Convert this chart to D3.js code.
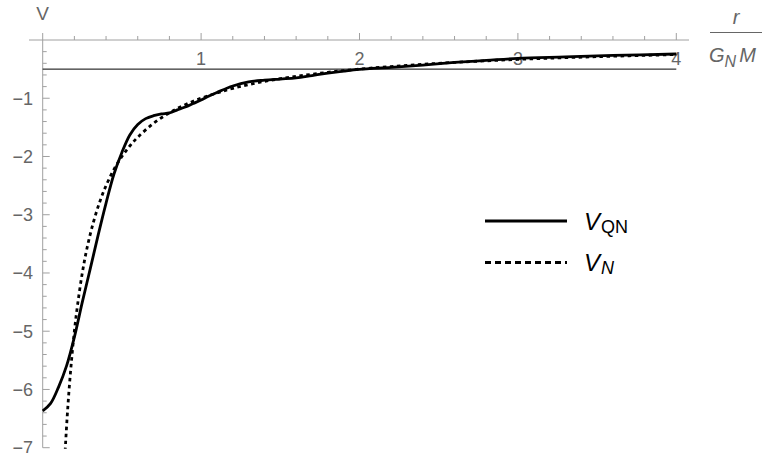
<!DOCTYPE html>
<html>
<head>
<meta charset="utf-8">
<title>V_QN vs V_N</title>
<style>
  body { margin: 0; background: #fff; }
  text { font-family: "Liberation Sans", Arial, sans-serif; }
</style>
</head>
<body>
<script src="https://d3js.org/d3.v7.min.js"></script>
<script>

// values
var qnR = [0, 0.05, 0.1, 0.15, 0.2, 0.25, 0.3, 0.35, 0.4, 0.45, 0.5, 0.55, 0.6, 0.65, 0.7, 0.75,
           0.8, 0.85, 0.9, 0.95, 1.0, 1.05, 1.1, 1.2, 1.3, 1.4, 1.5, 1.6, 1.7, 1.8, 1.9, 2.0,
           2.2, 2.4, 2.6, 2.8, 3.0, 3.3, 3.6, 4.0];
var qnV = [-6.37, -6.24, -5.96, -5.6, -5.1, -4.5, -3.93, -3.35, -2.8, -2.3, -1.93, -1.63, -1.45, -1.35, -1.3, -1.27,
           -1.25, -1.2, -1.15, -1.09, -1.03, -0.96, -0.9, -0.79, -0.72, -0.69, -0.67, -0.65, -0.61, -0.57, -0.535, -0.505,
           -0.47, -0.43, -0.385, -0.35, -0.315, -0.29, -0.265, -0.24];

var nR = [0.137, 0.145, 0.155, 0.165, 0.18, 0.2, 0.22, 0.25, 0.28, 0.32, 0.36, 0.4, 0.45, 0.5, 0.55, 0.6,
          0.7, 0.8, 0.9, 1.0, 1.1, 1.2, 1.4, 1.6, 1.8, 2.0, 2.3, 2.6, 3.0, 3.5, 4.0];
var nV = [-7.3, -6.9, -6.45, -6.06, -5.56, -5.0, -4.55, -4.0, -3.57, -3.13, -2.78, -2.5, -2.22, -2.0, -1.82, -1.67,
          -1.43, -1.25, -1.11, -1.0, -0.91, -0.83, -0.71, -0.625, -0.555, -0.5, -0.435, -0.385, -0.333, -0.286, -0.25];

var refLine = -0.5;
var xTicks = [1, 2, 3, 4];
var yTicks = [-1, -2, -3, -4, -5, -6, -7];

var svg = d3.select("body").append("svg")
    .attr("width", 764)
    .attr("height", 453);

var x = d3.scaleLinear().domain([0, 4]).range([42.7, 676.3]);
var y = d3.scaleLinear().domain([-7, 0]).range([447.7, 40]);

var axisColor = "#a0a0a0", labelColor = "#666";

svg.append("defs").append("clipPath").attr("id", "plot")
  .append("rect").attr("x", 42).attr("y", 0).attr("width", 700).attr("height", y(-7) + 1);

// axes
var g = svg.append("g");
g.append("line").attr("x1", 29).attr("x2", 689).attr("y1", y(0)).attr("y2", y(0))
  .attr("stroke", axisColor).attr("stroke-width", 1);
g.append("line").attr("x1", x(0)).attr("x2", x(0)).attr("y1", 33).attr("y2", y(-7))
  .attr("stroke", axisColor).attr("stroke-width", 1);

// x ticks, major and minor
d3.range(1, 21).forEach(function(i) {
  var v = i * 0.2, major = i % 5 === 0;
  g.append("line").attr("x1", x(v)).attr("x2", x(v))
    .attr("y1", y(0)).attr("y2", y(0) - (major ? 7 : 4))
    .attr("stroke", axisColor).attr("stroke-width", 1);
});
// y ticks
d3.range(1, 36).forEach(function(i) {
  var v = -i * 0.2, major = i % 5 === 0;
  g.append("line").attr("x1", x(0)).attr("x2", x(0) + (major ? 7 : 4))
    .attr("y1", y(v)).attr("y2", y(v))
    .attr("stroke", axisColor).attr("stroke-width", 1);
});

g.selectAll(".xl").data(xTicks).enter().append("text")
  .attr("x", function(d) { return x(d); })
  .attr("y", y(0) + 25)
  .attr("text-anchor", "middle")
  .attr("font-size", 18)
  .attr("fill", labelColor)
  .text(function(d) { return d; });

g.selectAll(".yl").data(yTicks).enter().append("text")
  .attr("x", 33)
  .attr("y", function(d) { return y(d) + 6.5; })
  .attr("text-anchor", "end")
  .attr("font-size", 18)
  .attr("fill", labelColor)
  .text(function(d) { return "\u2212" + Math.abs(d); });

// axis labels
g.append("text").attr("x", 42.5).attr("y", 20).attr("text-anchor", "middle")
  .attr("font-size", 19).attr("fill", labelColor).text("V");

g.append("text").attr("x", 736).attr("y", 24).attr("text-anchor", "middle")
  .attr("font-size", 20).attr("font-style", "italic").attr("fill", labelColor).text("r");
g.append("line").attr("x1", 710).attr("x2", 762).attr("y1", 32.5).attr("y2", 32.5)
  .attr("stroke", labelColor).attr("stroke-width", 1);
var gm = g.append("text").attr("x", 709).attr("y", 62)
  .attr("font-size", 20).attr("font-style", "italic").attr("fill", labelColor);
gm.append("tspan").text("G");
gm.append("tspan").attr("font-size", 16).attr("dy", 5).text("N");
gm.append("tspan").attr("dy", -5).attr("dx", 3).text("M");

// reference line
svg.append("line").attr("x1", x(0)).attr("x2", x(4)).attr("y1", y(refLine)).attr("y2", y(refLine))
  .attr("stroke", "#000").attr("stroke-width", 1);

// curves
var plot = svg.append("g").attr("clip-path", "url(#plot)");
var line = d3.line()
  .x(function(d) { return x(d[0]); })
  .y(function(d) { return y(d[1]); })
  .curve(d3.curveCatmullRom);

plot.append("path")
  .datum(d3.zip(nR, nV))
  .attr("d", line)
  .attr("fill", "none")
  .attr("stroke", "#000")
  .attr("stroke-width", 2.8)
  .attr("stroke-dasharray", "3.5,3.5");

plot.append("path")
  .datum(d3.zip(qnR, qnV))
  .attr("d", line)
  .attr("fill", "none")
  .attr("stroke", "#000")
  .attr("stroke-width", 2.8);

// legend
var lg = svg.append("g");
lg.append("line").attr("x1", 485).attr("x2", 567).attr("y1", 221).attr("y2", 221)
  .attr("stroke", "#000").attr("stroke-width", 2.8);
lg.append("line").attr("x1", 485).attr("x2", 567).attr("y1", 262.5).attr("y2", 262.5)
  .attr("stroke", "#000").attr("stroke-width", 2.8).attr("stroke-dasharray", "6,4");

var t1 = lg.append("text").attr("x", 584).attr("y", 230).attr("font-size", 24).attr("fill", "#000");
t1.append("tspan").attr("font-style", "italic").text("V");
t1.append("tspan").attr("font-size", 18).attr("dy", 3).attr("dx", 1).text("QN");

var t2 = lg.append("text").attr("x", 584).attr("y", 271).attr("font-size", 24).attr("fill", "#000");
t2.append("tspan").attr("font-style", "italic").text("V");
t2.append("tspan").attr("font-size", 18).attr("font-style", "italic").attr("dy", 3).attr("dx", 1).text("N");

</script>
</body>
</html>
